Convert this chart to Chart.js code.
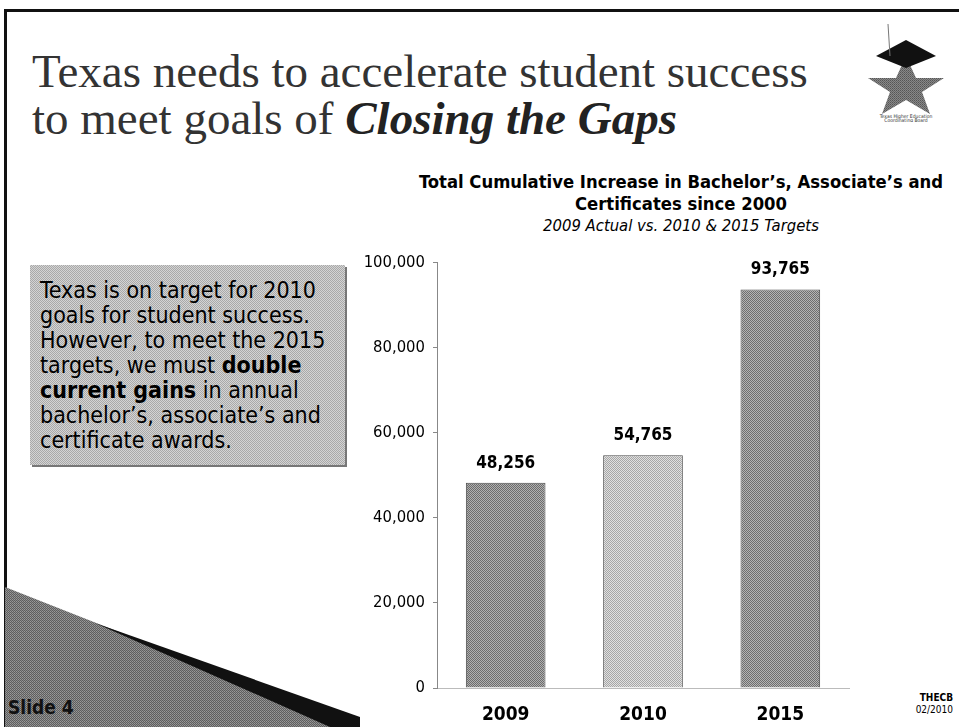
<!DOCTYPE html>
<html>
<head>
<meta charset="utf-8">
<script src="https://cdn.jsdelivr.net/npm/chart.js@4"></script>
<style>
  body { margin:0; width:959px; height:727px; background:#fff; position:relative; overflow:hidden; font-family:"DejaVu Sans Condensed","DejaVu Sans",sans-serif; }
  #frame { position:absolute; left:4px; top:9px; width:960px; height:730px; border-left:3px solid #111; border-top:3px solid #111; }
  #head { position:absolute; left:32px; top:48px; font-family:"Liberation Serif",serif; font-size:47px; line-height:47px; color:#333; }
  #head b { font-style:italic; font-weight:bold; color:#222; }
  #ctitle { position:absolute; left:400px; width:562px; top:171px; text-align:center; font-size:18.3px; font-weight:bold; line-height:22px; color:#000; }
  #ctitle i { font-weight:normal; font-size:16.5px; display:block; }
  #box { position:absolute; left:30px; top:265px; width:305px; height:187px; padding:13px 0 0 10px; font-size:23px; line-height:25px; color:#000; white-space:nowrap;
    background:repeating-conic-gradient(#a9a9a9 0 25%, #d4d4d4 0 50%) 0 0/2px 2px; box-shadow:2px 2px 0 #777; }
  #wrap { position:absolute; left:350px; top:245px; width:520px; height:482px; }
  #foot { position:absolute; right:6px; top:692px; text-align:right; font-size:10px; line-height:12px; }
  #slide { position:absolute; left:8px; top:696px; font-size:19px; font-weight:bold; color:#111; }
  #logo { position:absolute; left:860px; top:18px; }
</style>
</head>
<body>
<div id="frame"></div>
<svg width="400" height="160" style="position:absolute;left:0;top:567px">
  <defs>
    <pattern id="dith" width="2" height="2" patternUnits="userSpaceOnUse">
      <rect width="2" height="2" fill="#5e5e5e"/><rect width="1" height="1" fill="#9a9a9a"/><rect x="1" y="1" width="1" height="1" fill="#8a8a8a"/>
    </pattern>
  </defs>
  <polygon points="5,20 360,160 5,160" fill="url(#dith)"/>
  <polygon points="95,56 360,150 360,160 330,160" fill="#111"/>
</svg>
<div id="slide">Slide 4</div>
<svg id="logo" width="96" height="104">
  <defs>
    <pattern id="dith2" width="2" height="2" patternUnits="userSpaceOnUse">
      <rect width="2" height="2" fill="#888"/><rect width="1" height="1" fill="#555"/><rect x="1" y="1" width="1" height="1" fill="#666"/>
    </pattern>
  </defs>
  <polygon points="46,38 56,60 84,60 62,74 70,96 46,82 22,96 30,74 8,60 36,60" fill="url(#dith2)"/>
  <polygon points="46,22 76,38 46,50 16,38" fill="#111"/>
  <line x1="28" y1="6" x2="30" y2="38" stroke="#777" stroke-width="1"/>
  <text x="46" y="100" font-size="5" text-anchor="middle" fill="#333">Texas Higher Education</text>
  <text x="46" y="104" font-size="5" text-anchor="middle" fill="#333">Coordinating Board</text>
</svg>
<div id="head">Texas needs to accelerate student success<br>to meet goals of <b>Closing the Gaps</b></div>
<div id="ctitle">Total Cumulative Increase in Bachelor’s, Associate’s and<br>Certificates since 2000<i>2009 Actual vs. 2010 &amp; 2015 Targets</i></div>
<div id="box">Texas is on target for 2010<br>goals for student success.<br>However, to meet the 2015<br>targets, we must <b>double</b><br><b>current gains</b> in annual<br>bachelor’s, associate’s and<br>certificate awards.</div>
<div id="wrap"><canvas id="c"></canvas></div>
<div id="foot"><b>THECB</b><br>02/2010</div>
<script>
var years = ['2009', '2010', '2015'];
var awards = [48256, 54765, 93765];
var yTicks = [0, 20000, 40000, 60000, 80000, 100000];

// halftone look for the bars
function dither(a, b) {
  var p = document.createElement('canvas');
  p.width = 2; p.height = 2;
  var g = p.getContext('2d');
  g.fillStyle = a; g.fillRect(0, 0, 2, 2);
  g.fillStyle = b; g.fillRect(0, 0, 1, 1); g.fillRect(1, 1, 1, 1);
  return g.createPattern(p, 'repeat');
}
var ctx = document.getElementById('c').getContext('2d');
var fills = [dither('#6c6c6c', '#b0b0b0'), dither('#a6a6a6', '#e0e0e0'), dither('#6e6e6e', '#b4b4b4')];
var fontFam = '"DejaVu Sans Condensed", "DejaVu Sans", sans-serif';

var valueLabels = {
  id: 'valueLabels',
  afterDatasetsDraw: function(chart) {
    var c = chart.ctx;
    var meta = chart.getDatasetMeta(0);
    c.save();
    c.font = 'bold 17px ' + fontFam;
    c.fillStyle = '#000';
    c.textAlign = 'center';
    c.textBaseline = 'bottom';
    meta.data.forEach(function(bar, i) {
      c.fillText(awards[i].toLocaleString('en-US'), bar.x, bar.y - 11);
    });
    c.restore();
  }
};

new Chart(ctx, {
  type: 'bar',
  data: {
    labels: years,
    datasets: [{
      data: awards,
      backgroundColor: fills,
      borderColor: '#4a4a4a',
      borderWidth: 1,
      barPercentage: 0.58,
      categoryPercentage: 1
    }]
  },
  options: {
    responsive: true,
    maintainAspectRatio: false,
    animation: false,
    layout: { padding: { top: 17, right: 21, bottom: 0, left: 0 } },
    plugins: { legend: { display: false }, tooltip: { enabled: false } },
    scales: {
      x: {
        grid: { display: false },
        border: { display: true, color: '#bbb', dash: [2, 6] },
        ticks: { color: '#000', padding: 8, font: { family: fontFam, size: 19, weight: 'bold' } },
        afterFit: function(s) { s.height = 39; }
      },
      y: {
        min: 0, max: 100000,
        afterBuildTicks: function(s) { s.ticks = yTicks.map(function(v) { return { value: v }; }); },
        grid: { drawOnChartArea: false, drawTicks: true, tickLength: 4, color: '#888' },
        border: { display: true, color: '#888', dash: [1, 1] },
        ticks: {
          color: '#000', padding: 8,
          font: { family: fontFam, size: 16.5 },
          callback: function(v) { return v.toLocaleString('en-US'); }
        },
        afterFit: function(s) { s.width = 87; }
      }
    }
  },
  plugins: [valueLabels]
});
</script>
</body>
</html>
